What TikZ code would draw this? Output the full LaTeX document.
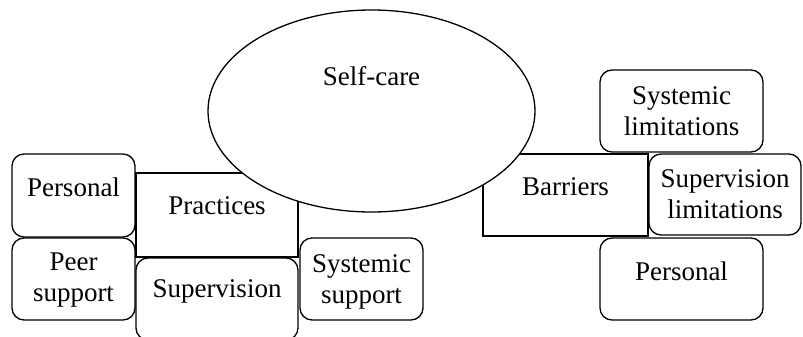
\documentclass[tikz,border=0pt]{standalone}
\usepackage{fontspec}
\setmainfont{Liberation Serif}
\usetikzlibrary{shapes.geometric}
\tikzset{
  box/.style={draw,line width=1.3pt,rounded corners=12pt,inner sep=0pt},
  plain/.style={draw,line width=1.3pt,inner sep=0pt},
  txt/.style={anchor=north,inner sep=0pt,align=center,font=\fontsize{27}{31.5}\selectfont},
}
\begin{document}
\begin{tikzpicture}[x=1pt,y=-1pt]
\useasboundingbox(0,0)rectangle(803,337);
% practices side
\node[plain,minimum width=162pt,minimum height=84pt,label={[txt,yshift=-24pt]north:Practices}](prac)at(217,215){};
\node[box,minimum width=123pt,minimum height=83pt,label={[txt,yshift=-24pt]north:Personal}](persL)at(73.5,195.5){};
\node[box,minimum width=123pt,minimum height=82pt,label={[txt,yshift=-15pt]north:Peer\\support}](peer)at(73.5,279){};
\node[box,minimum width=162pt,minimum height=82pt,label={[txt,yshift=-22pt]north:Supervision}](supL)at(217,299){};
\node[box,minimum width=123pt,minimum height=82pt,label={[txt,yshift=-17pt]north:Systemic\\support}](sysS)at(361.5,279){};
% barriers side
\node[plain,minimum width=165pt,minimum height=82pt,label={[txt,yshift=-24pt]north:Barriers}](barr)at(565.5,195){};
\node[box,minimum width=163pt,minimum height=82pt,label={[txt,yshift=-17pt]north:Systemic\\limitations}](sysL)at(681.5,111){};
\node[box,minimum width=152pt,minimum height=81pt,label={[txt,yshift=-16pt]north:Supervision\\limitations}](supLim)at(725,194.5){};
\node[box,minimum width=163pt,minimum height=82pt,label={[txt,yshift=-24pt]north:Personal}](persR)at(681.5,279){};
%
\node[ellipse,draw,fill=white,line width=1.3pt,inner sep=0pt,minimum width=327pt,minimum height=202pt,label={[txt,yshift=-57pt]north:Self-care}](self)at(371.5,111){};
\end{tikzpicture}
\end{document}
